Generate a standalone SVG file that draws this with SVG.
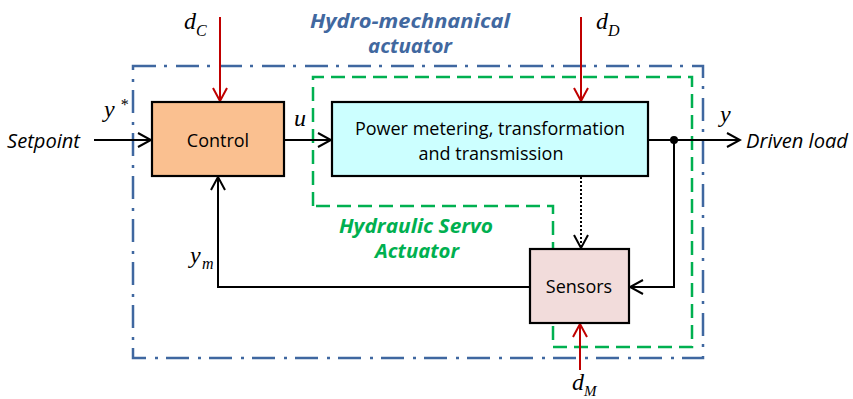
<svg xmlns="http://www.w3.org/2000/svg" width="853" height="399" viewBox="0 0 853 399">
<style>
.box{stroke:#000;stroke-width:2.2}
.lbl{font-family:"Open Sans","Liberation Sans",sans-serif;font-size:18px;fill:#000}
.it{font-family:"Open Sans","Liberation Sans",sans-serif;font-style:italic;font-size:20px;fill:#000}
.math{font-family:"Liberation Serif","Times New Roman",serif;font-style:italic;fill:#000}
.conn{stroke:#000;stroke-width:2;fill:none}
.red{stroke:#C00000;stroke-width:2;fill:none}
.grp{font-family:"Open Sans","Liberation Sans",sans-serif;font-style:italic;font-weight:bold;font-size:19px}
</style>
<defs>
<marker id="ah" viewBox="0 0 16 16" refX="14" refY="8" markerWidth="16" markerHeight="16" markerUnits="userSpaceOnUse" orient="auto">
<path d="M1,1 L14,8 L1,15" fill="none" stroke="#000" stroke-width="2"/>
</marker>
<marker id="ahr" viewBox="0 0 16 16" refX="14" refY="8" markerWidth="16" markerHeight="16" markerUnits="userSpaceOnUse" orient="auto">
<path d="M1,1 L14,8 L1,15" fill="none" stroke="#C00000" stroke-width="2"/>
</marker>
</defs>
<rect width="853" height="399" fill="#fff"/>

<g id="hydro-mechanical-actuator">
<rect x="133" y="66" width="570" height="292" fill="none" stroke="#3F67A0" stroke-width="2.5" stroke-dasharray="23 8 3 9"/>
<text class="grp" fill="#41689F" x="310" y="28" textLength="200" lengthAdjust="spacingAndGlyphs">Hydro-mechnanical</text>
<text class="grp" fill="#41689F" x="368" y="53" textLength="84" lengthAdjust="spacingAndGlyphs">actuator</text>
</g>

<g id="hydraulic-servo-actuator">
<path d="M313,206 L313,77 L692,77 L692,347 L553,347 L553,206 Z" fill="none" stroke="#00B050" stroke-width="2.5" stroke-dasharray="14 7"/>
<text class="grp" fill="#00B050" x="339" y="233" textLength="154" lengthAdjust="spacingAndGlyphs">Hydraulic Servo</text>
<text class="grp" fill="#00B050" x="375" y="258" textLength="84" lengthAdjust="spacingAndGlyphs">Actuator</text>
</g>

<g id="connectors">
<line class="conn" x1="94" y1="140" x2="151" y2="140" marker-end="url(#ah)"/>
<line class="conn" x1="284" y1="140" x2="331" y2="140" marker-end="url(#ah)"/>
<line class="conn" x1="648" y1="140" x2="740" y2="140" marker-end="url(#ah)"/>
<circle cx="674" cy="140" r="4" fill="#000"/>
<polyline class="conn" points="674,140 674,287 630,287" marker-end="url(#ah)"/>
<polyline class="conn" points="530,287 218,287 218,177" marker-end="url(#ah)"/>
<line class="conn" x1="581" y1="177" x2="581" y2="248" stroke-dasharray="2 2" marker-end="url(#ah)"/>
<line class="red" x1="220" y1="17" x2="220" y2="101" marker-end="url(#ahr)"/>
<line class="red" x1="581" y1="17" x2="581" y2="101" marker-end="url(#ahr)"/>
<line class="red" x1="580" y1="370" x2="580" y2="324" marker-end="url(#ahr)"/>
</g>

<g id="control">
<rect class="box" x="152" y="102" width="132" height="74" fill="#FAC090"/>
<text class="lbl" x="218" y="147" text-anchor="middle">Control</text>
</g>

<g id="power">
<rect class="box" x="332" y="102" width="316" height="74" fill="#CCFFFF"/>
<text class="lbl" x="490" y="135" text-anchor="middle">Power metering, transformation</text>
<text class="lbl" x="491" y="160" text-anchor="middle">and transmission</text>
</g>

<g id="sensors">
<rect class="box" x="530" y="249" width="99" height="74" fill="#F2DCDB"/>
<text class="lbl" x="579" y="293" text-anchor="middle">Sensors</text>
</g>

<g id="labels">
<text class="it" x="7" y="148" textLength="73" lengthAdjust="spacingAndGlyphs">Setpoint</text>
<text class="it" x="746" y="148" textLength="102" lengthAdjust="spacingAndGlyphs">Driven load</text>
<text class="math" x="184" y="29" font-size="24">d</text>
<text class="math" x="196" y="36" font-size="16">C</text>
<text class="math" x="596" y="29" font-size="24">d</text>
<text class="math" x="608" y="36" font-size="16">D</text>
<text class="math" x="572" y="390" font-size="24">d</text>
<text class="math" x="584" y="396" font-size="15">M</text>
<text class="math" x="104" y="117" font-size="24">y</text>
<text class="math" x="120" y="110" font-size="16">*</text>
<text class="math" x="294" y="126" font-size="24">u</text>
<text class="math" x="720" y="122" font-size="24">y</text>
<text class="math" x="190" y="263" font-size="24">y</text>
<text class="math" x="202" y="269" font-size="16">m</text>
</g>
</svg>
